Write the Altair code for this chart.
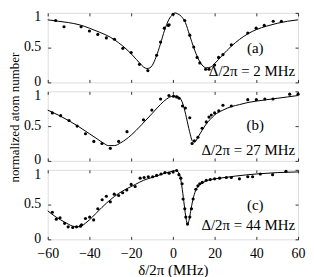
import altair as alt
import pandas as pd

# ---------------- data ----------------
x_ticks = [-60, -40, -20, 0, 20, 40, 60]
y_ticks = [0, 0.5, 1]

# panel (a)  Delta/2pi = 2 MHz
a_pts_x = [-56.2, -52.2, -44, -40, -36, -31.9, -28, -24, -20, -16, -12, -7.8, -5.9, -4.1,
           -2.2, -1.8, 0.1, 5.7, 8.1, 10, 11.6, 12.9, 15.7, 17.3, 20, 21.9, 24, 28, 35.9,
           39.9, 43.8, 48.1, 52]
a_pts_y = [0.89, 0.80, 0.80, 0.74, 0.69, 0.64, 0.62, 0.49, 0.43, 0.26, 0.17, 0.39, 0.58, 0.78,
           0.82, 0.83, 0.98, 0.89, 0.68, 0.51, 0.36, 0.28, 0.19, 0.19, 0.25, 0.36, 0.40, 0.54, 0.71,
           0.78, 0.82, 0.88, 0.88]
a_fit_x = [-60, -55, -50, -45, -40, -35, -30, -26, -22, -19, -16, -14, -12.5, -11, -10, -8, -6,
           -4, -2, 0, 1, 2, 4, 6, 8, 10, 12, 14, 16, 18, 20, 24, 28, 32, 36, 40, 45, 50, 55, 60]
a_fit_y = [0.90, 0.88, 0.86, 0.83, 0.78, 0.72, 0.65, 0.57, 0.47, 0.38, 0.28, 0.22, 0.20, 0.21,
           0.24, 0.37, 0.55, 0.75, 0.90, 0.98, 1.0, 0.99, 0.95, 0.86, 0.68, 0.50, 0.35, 0.25,
           0.21, 0.22, 0.27, 0.40, 0.52, 0.62, 0.70, 0.76, 0.81, 0.85, 0.88, 0.90]

# panel (b)  Delta/2pi = 27 MHz
b_pts_x = [-57.8, -53.8, -49.8, -45.9, -41.9, -37.9, -34, -30, -26, -22, -14.1, -10.1, -5.9,
           -1.9, 0.3, 1.8, 3, 4.6, 6, 8.1, 9.2, 10.3, 12, 14, 16, 17.3, 18.4, 20, 22, 24, 28,
           35.9, 40, 44.1, 48, 56, 60]
b_pts_y = [0.69, 0.65, 0.58, 0.50, 0.39, 0.28, 0.25, 0.18, 0.28, 0.42, 0.59, 0.73, 0.89,
           0.94, 0.93, 0.92, 0.90, 0.79, 0.76, 0.62, 0.25, 0.29, 0.34, 0.47, 0.56, 0.63, 0.66,
           0.69, 0.72, 0.80, 0.79, 0.88, 0.88, 0.89, 0.89, 0.96, 0.96]
b_fit_x = [-60, -55, -50, -45, -40, -36, -33, -31, -28, -25, -20, -15, -10, -6, -3, 0, 2, 3.5,
           5, 6.5, 8, 9.5, 10.5, 12, 14, 16, 18, 20, 24, 28, 32, 36, 40, 45, 50, 55, 60]
b_fit_y = [0.73, 0.66, 0.58, 0.49, 0.39, 0.31, 0.25, 0.22, 0.22, 0.26, 0.37, 0.52, 0.68, 0.81,
           0.89, 0.93, 0.93, 0.90, 0.80, 0.62, 0.42, 0.28, 0.27, 0.34, 0.44, 0.53, 0.60, 0.66,
           0.73, 0.78, 0.81, 0.84, 0.86, 0.88, 0.90, 0.92, 0.94]

# panel (c)  Delta/2pi = 44 MHz
c_pts_x = [-57.8, -55.9, -54.1, -51.9, -50.2, -48, -46.2, -44.3, -43.8, -41.9, -39.9, -38,
           -36, -33.9, -31.9, -30, -28.1, -26, -24.1, -22.1, -20, -18.1, -15.7, -13.8, -11.8,
           -9.7, -7.8, -5.7, -3.8, -1.8, 0.1, 1.8, 2.9, 3.8, 4.4, 4.9, 5.7, 6.2, 7, 8.1, 8.9,
           9.7, 11, 12, 12.9, 14.1, 16, 17.9, 20, 22.4, 25.6, 28, 31.9, 35.9, 38.2, 41.9,
           47.8, 54.2]
c_pts_y = [0.39, 0.29, 0.31, 0.23, 0.18, 0.17, 0.18, 0.19, 0.21, 0.30, 0.32, 0.28, 0.44,
           0.57, 0.62, 0.54, 0.65, 0.63, 0.67, 0.71, 0.79, 0.76, 0.88, 0.89, 0.90, 0.90, 0.92,
           0.94, 0.96, 0.95, 0.97, 0.99, 0.93, 0.88, 0.80, 0.58, 0.44, 0.32, 0.22, 0.32, 0.44,
           0.58, 0.72, 0.77, 0.80, 0.82, 0.85, 0.86, 0.87, 0.88, 0.89, 0.89, 0.87, 0.90, 0.90,
           0.94, 0.93, 0.98]
c_fit_x = [-60, -56, -52, -48, -46, -44, -42, -40, -37, -34, -30, -26, -22, -18, -14, -10, -6,
           -3, 0, 1.5, 2.5, 3.5, 4.5, 5.5, 6.3, 7, 7.7, 8.5, 9.5, 10.5, 12, 14, 17, 20, 25, 30,
           40, 50, 60]
c_fit_y = [0.41, 0.32, 0.25, 0.19, 0.18, 0.19, 0.23, 0.28, 0.37, 0.46, 0.57, 0.66, 0.73, 0.79,
           0.85, 0.89, 0.93, 0.96, 0.98, 0.99, 0.97, 0.90, 0.72, 0.48, 0.30, 0.22, 0.27, 0.40,
           0.56, 0.67, 0.76, 0.81, 0.85, 0.87, 0.89, 0.91, 0.94, 0.96, 0.97]

tags = ["(a)", "(b)", "(c)"]
deltas = ["\u0394/2\u03c0 = 2 MHz", "\u0394/2\u03c0 = 27 MHz", "\u0394/2\u03c0 = 44 MHz"]
tag_pos = [(39.5, 0.50), (39.5, 0.51), (39.5, 0.49)]
delta_pos = [(58.6, 0.16), (58.6, 0.15), (58.6, 0.20)]

# ---------------- styling ----------------
FONT = "Liberation Serif, Times New Roman, Times, serif"
W, H = 252, 70
xscale = alt.Scale(domain=[-60, 60], nice=False, zero=False)
yscale = alt.Scale(domain=[0, 1], nice=False, zero=False)


def ax(orient, values, labels, **extra):
    kw = dict(orient=orient, values=values, labels=labels, domain=False, grid=False,
              ticks=True, tickSize=3, tickColor="black", tickWidth=0.8, offset=-3,
              labelFont=FONT, labelFontSize=14, labelColor="black", labelFlush=False,
              labelOverlap=False, labelBound=False, title=None)
    kw.update(extra)
    return alt.Axis(**kw)


def panel(i, px, py, fx, fy, bottom, ytitle):
    pts = pd.DataFrame({"x": px, "y": py})
    fit = pd.DataFrame({"x": fx, "y": fy})
    t1 = pd.DataFrame({"x": [tag_pos[i][0]], "y": [tag_pos[i][1]], "t": [tags[i]]})
    t2 = pd.DataFrame({"x": [delta_pos[i][0]], "y": [delta_pos[i][1]], "t": [deltas[i]]})

    if bottom:
        xb = ax("bottom", x_ticks, True, format="d", labelPadding=7, title="\u03b4/2\u03c0 (MHz)",
                titleFont=FONT, titleFontSize=15, titleFontWeight="normal",
                titleColor="black", titlePadding=2)
    else:
        xb = ax("bottom", x_ticks, False)
    extra_left = {}
    if ytitle:
        extra_left = dict(title="normalized atom number", titleFont=FONT, titleFontSize=13,
                          titleFontWeight="normal", titleColor="black", titlePadding=2,
                          titleY=26)
    # "1" label is drawn by its own axis, shifted slightly inside like the reference
    yl = ax("left", [0, 0.5], True, format="~g", labelPadding=7, labelBaseline="middle",
            labelOffset=-1, **extra_left)

    line = alt.Chart(fit).mark_line(color="black", strokeWidth=1, interpolate="monotone").encode(
        x=alt.X("x:Q", scale=xscale, axis=xb), y=alt.Y("y:Q", scale=yscale, axis=yl))
    dots = alt.Chart(pts).mark_circle(color="black", size=10, opacity=1).encode(
        x=alt.X("x:Q", scale=xscale, axis=ax("top", x_ticks, False)),
        y=alt.Y("y:Q", scale=yscale, axis=ax("right", y_ticks, False)))
    if i == 0:
        one_axis = ax("left", [1], True, format="~g", labelPadding=7,
                      labelBaseline="top", labelOffset=-3.5, tickOpacity=0)
    else:
        one_axis = ax("left", [1], True, format="~g", labelPadding=7,
                      labelBaseline="middle", labelOffset=4.5, tickOpacity=0)
    txt1 = alt.Chart(t1).mark_text(font=FONT, fontSize=15, align="center", baseline="middle",
                                   color="black").encode(
        x=alt.X("x:Q", scale=xscale, axis=None),
        y=alt.Y("y:Q", scale=yscale, axis=one_axis), text="t:N")
    txt2 = alt.Chart(t2).mark_text(font=FONT, fontSize=15, align="right", baseline="middle",
                                   color="black").encode(
        x=alt.X("x:Q", scale=xscale, axis=None), y=alt.Y("y:Q", scale=yscale, axis=None),
        text="t:N")
    return alt.layer(line, dots, txt1, txt2).resolve_axis(
        x="independent", y="independent").properties(width=W, height=H)


pa = panel(0, a_pts_x, a_pts_y, a_fit_x, a_fit_y, False, False)
pb = panel(1, b_pts_x, b_pts_y, b_fit_x, b_fit_y, False, True)
pc = panel(2, c_pts_x, c_pts_y, c_fit_x, c_fit_y, True, False)

chart = alt.vconcat(pa, pb, pc, spacing=9, bounds="flush").properties(
    padding={"left": 0, "top": 0, "right": 0, "bottom": 0}
).configure_view(stroke="black", strokeWidth=1).configure(background="white")

chart.save("out.html", embed_options={"renderer": "svg", "actions": False})
